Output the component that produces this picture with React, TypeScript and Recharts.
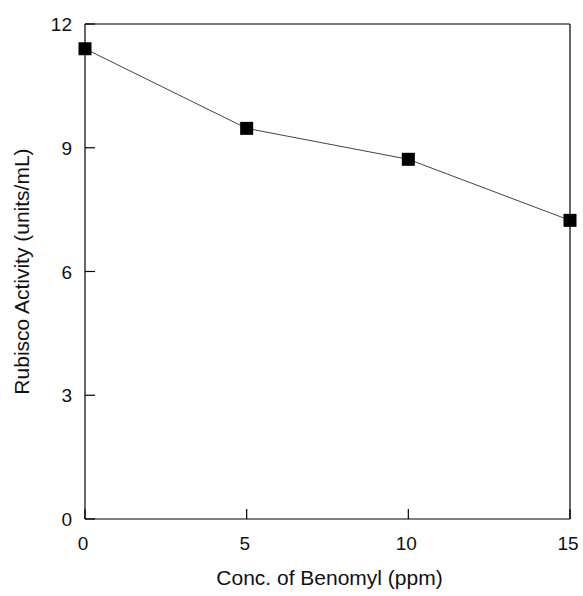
import { LineChart, Line, XAxis, YAxis, ReferenceLine, Label } from 'recharts'

const concentrations = [0, 5, 10, 15]
const activity = [11.4, 9.47, 8.72, 7.24]
const xTicks = [0, 5, 10, 15]
const yTicks = [0, 3, 6, 9, 12]

const data = concentrations.map((c, i) => ({ conc: c, activity: activity[i] }))

const FONT = '"Liberation Sans", Arial, sans-serif'

const XTick = ({ x, y, payload }: any) => (
  <g>
    <line x1={x} y1={y} x2={x} y2={y - 10} stroke="#000" strokeWidth={1.2} />
    <text x={x - 2} y={y + 31} textAnchor="middle" fontSize={19} fontFamily={FONT} fill="#111">
      {payload.value}
    </text>
  </g>
)

const YTick = ({ x, y, payload }: any) => (
  <g>
    <line x1={x} y1={y} x2={x + 10} y2={y} stroke="#000" strokeWidth={1.2} />
    <text x={x - 13} y={y + 7} textAnchor="end" fontSize={19} fontFamily={FONT} fill="#111">
      {payload.value}
    </text>
  </g>
)

const SquareDot = ({ cx, cy }: any) => (
  <rect x={cx - 6.5} y={cy - 6.5} width={13} height={13} fill="#000" />
)

export default function App() {
  return (
    <div style={{ position: 'fixed', left: 0, top: 0, background: '#fff' }}>
      <LineChart
        width={583}
        height={596}
        data={data}
        margin={{ top: 24, right: 13, bottom: 0, left: 0 }}
      >
        <XAxis
          dataKey="conc"
          type="number"
          domain={[0, 15]}
          ticks={xTicks}
          tickSize={0}
          tickMargin={0}
          tick={<XTick />}
          height={77}
          stroke="#000"
          strokeWidth={1.2}
        >
          <Label
            content={({ viewBox }: any) => (
              <text
                x={viewBox.x + viewBox.width / 2 + 2}
                y={585}
                textAnchor="middle"
                fontSize={21}
                fontFamily={FONT}
                fill="#111"
              >
                Conc. of Benomyl (ppm)
              </text>
            )}
          />
        </XAxis>
        <YAxis
          type="number"
          domain={[0, 12]}
          ticks={yTicks}
          tickSize={0}
          tickMargin={0}
          tick={<YTick />}
          width={85}
          stroke="#000"
          strokeWidth={1.2}
        >
          <Label
            content={({ viewBox }: any) => {
              const cy = viewBox.y + viewBox.height / 2
              return (
                <text
                  x={29}
                  y={cy}
                  transform={`rotate(-90 29 ${cy})`}
                  textAnchor="middle"
                  fontSize={21}
                  fontFamily={FONT}
                  fill="#111"
                >
                  Rubisco Activity (units/mL)
                </text>
              )
            }}
          />
        </YAxis>
        <ReferenceLine y={12} stroke="#000" strokeWidth={1.2} />
        <ReferenceLine x={15} stroke="#000" strokeWidth={1.2} />
        <Line
          type="linear"
          dataKey="activity"
          stroke="#444"
          strokeWidth={1}
          dot={<SquareDot />}
          activeDot={false}
          isAnimationActive={false}
        />
      </LineChart>
    </div>
  )
}
